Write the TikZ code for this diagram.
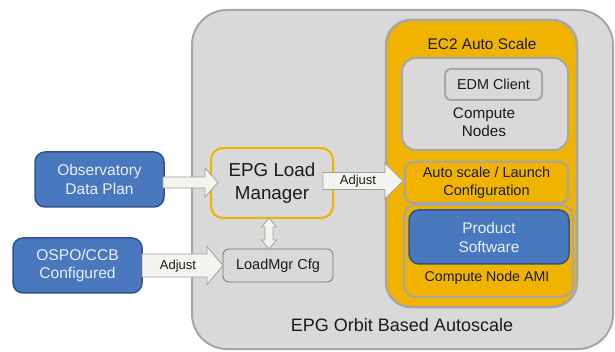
\documentclass[tikz,border=0pt]{standalone}
\usepackage{fontspec}
\setmainfont{Liberation Sans}
\usetikzlibrary{calc}
\definecolor{bggray}{HTML}{D9D9D9}
\definecolor{edgegray}{HTML}{A6A6A6}
\definecolor{ec2orange}{HTML}{EFB300}
\definecolor{boxblue}{HTML}{4A78BE}
\definecolor{blueedge}{HTML}{2F5290}
\definecolor{bluetext}{HTML}{E8EEF8}
\definecolor{arrowfill}{HTML}{F4F4EE}
\definecolor{arrowedge}{HTML}{A0A0A0}
\definecolor{txt}{HTML}{1A1A1A}
\newcommand{\fsz}[2]{\fontsize{#1}{#2}\selectfont}
\newcommand{\harrow}[5]{%
  \path[blockarrow] let \p1=(#1), \p2=(#2) in
  (\x1,{\y2+#3pt}) -- ({\x2-#5pt},{\y2+#3pt}) -- ({\x2-#5pt},{\y2+#4pt}) -- (\x2,\y2)
  -- ({\x2-#5pt},{\y2-#4pt}) -- ({\x2-#5pt},{\y2-#3pt}) -- (\x1,{\y2-#3pt}) -- cycle;}
\newcommand{\vdarrow}[5]{%
  \path[blockarrow] let \p1=(#1), \p2=(#2) in
  (\x1,\y1) -- ({\x1+#4pt},{\y1-#5pt}) -- ({\x1+#3pt},{\y1-#5pt}) -- ({\x1+#3pt},{\y2+#5pt})
  -- ({\x1+#4pt},{\y2+#5pt}) -- (\x1,\y2) -- ({\x1-#4pt},{\y2+#5pt}) -- ({\x1-#3pt},{\y2+#5pt})
  -- ({\x1-#3pt},{\y1-#5pt}) -- ({\x1-#4pt},{\y1-#5pt}) -- cycle;}
\tikzset{
  box/.style={rectangle, inner sep=0pt, outer sep=0pt, align=center, text=txt},
  bigbox/.style={box, fill=bggray, draw=edgegray, line width=2pt, rounded corners=35pt},
  ec2box/.style={box, fill=ec2orange, draw=edgegray, line width=2.5pt, rounded corners=25pt},
  graybox/.style={box, fill=bggray, draw=edgegray, line width=2pt},
  orangebox/.style={box, fill=ec2orange, draw=edgegray, line width=2pt},
  bluebox/.style={box, fill=boxblue, draw=blueedge, line width=1.5pt, text=bluetext, rounded corners=10pt},
  lmbox/.style={box, fill=bggray, draw=ec2orange, line width=2pt, rounded corners=12pt},
  cfgbox/.style={box, fill=bggray, draw=gray!90!black, line width=0.8pt, rounded corners=6pt},
  blockarrow/.style={fill=arrowfill, draw=arrowedge, line width=0.8pt},
  lbl/.style={inner sep=0pt, text=txt, align=center}
}
\begin{document}
\begin{tikzpicture}[x=1pt,y=-1pt]
\useasboundingbox (0,0) rectangle (615,352);
\fill[white] (0,0) rectangle (615,352);

% containers
\node[bigbox, minimum width=421pt, minimum height=339pt] (orbit) at (402.5,179.5) {};
\node[lbl, font=\fsz{18}{21}] (orbitlbl) at (402,325) {EPG Orbit Based Autoscale};

\node[ec2box, minimum width=191pt, minimum height=287pt] (ec2) at (481.5,163.5) {};
\node[lbl, font=\fsz{15.4}{18}] (ec2lbl) at (482,44) {EC2 Auto Scale};

\node[graybox, rounded corners=14pt, minimum width=166pt, minimum height=92pt] (cn) at (485,104) {};
\node[graybox, rounded corners=6pt, minimum width=97pt, minimum height=31pt, font=\fsz{14.4}{17}] (edm) at (493.5,84.5) {EDM Client};
\node[lbl, font=\fsz{15.3}{18}] (cnlbl) at (484,122) {Compute\\Nodes};

\node[orangebox, rounded corners=8pt, minimum width=163pt, minimum height=41pt, font=\fsz{14.5}{18}] (auto) at (486.5,182.5)
  {Auto scale / Launch\\Configuration};

\node[orangebox, rounded corners=12pt, minimum width=169pt, minimum height=92pt] (ami) at (488.5,251) {};
\node[bluebox, minimum width=160pt, minimum height=54pt, font=\fsz{15.4}{19}] (prod) at (489,237) {Product\\Software};
\node[lbl, font=\fsz{14.2}{17}] (amilbl) at (487,278) {Compute Node AMI};

% left side
\node[lmbox, minimum width=122pt, minimum height=70pt, font=\fsz{18.8}{23}] (lm) at (272,183) {EPG Load\\Manager};
\node[cfgbox, minimum width=110pt, minimum height=33pt, font=\fsz{14.5}{17}] (cfg) at (278,265.5) {LoadMgr Cfg};
\node[bluebox, minimum width=129pt, minimum height=55pt, font=\fsz{15.5}{18.5}] (obs) at (99.5,179.5) {Observatory\\Data Plan};
\node[bluebox, minimum width=129pt, minimum height=55pt, font=\fsz{15.6}{18.5}] (ospo) at (77.5,265.5) {OSPO/CCB\\Configured};

% arrows
\path (obs.east) ++(-1,3) coordinate (a1s);
\path (lm.west) ++(7,-0.5) coordinate (a1t);
\harrow{a1s}{a1t}{5.5}{14.5}{13}

\harrow{ospo.east}{cfg.west}{11.5}{19}{16}
\node[lbl, font=\fsz{13}{15}] (adj1) at (178,266) {Adjust};

\path (lm.east) ++(-10,-2) coordinate (a3s);
\path (auto.west) ++(-2,-1.5) coordinate (a3t);
\harrow{a3s}{a3t}{8.5}{18}{18}
\node[lbl, font=\fsz{13}{15}] (adj2) at (358,181) {Adjust};

\path (lm.south) ++(-3,0) coordinate (d1);
\path (cfg.north) ++(-9,0) coordinate (d2);
\vdarrow{d1}{d2}{4}{7.5}{9}
\end{tikzpicture}
\end{document}
